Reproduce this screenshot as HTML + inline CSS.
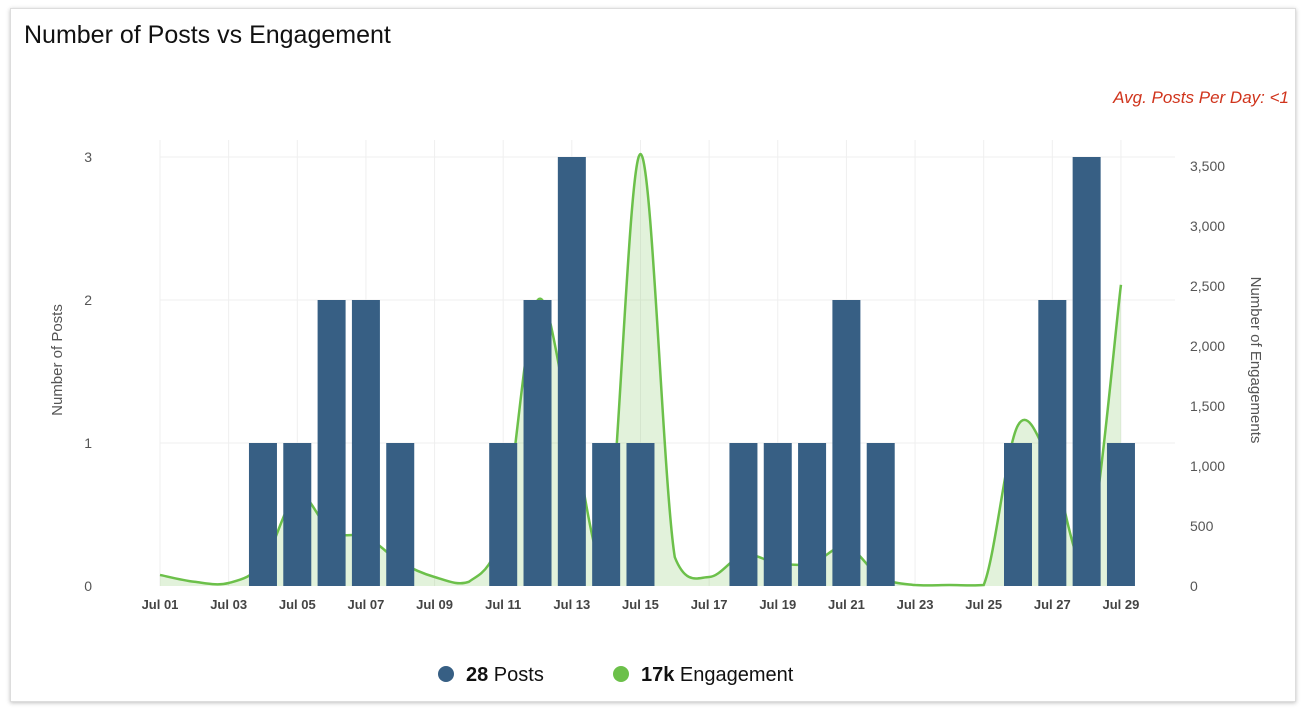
<!DOCTYPE html>
<html><head><meta charset="utf-8"><style>
body{margin:0;background:#fff;width:1304px;height:712px;overflow:hidden;font-family:"Liberation Sans",sans-serif}
.card{position:absolute;left:10px;top:8px;width:1284px;height:692px;border:1px solid #ddd;box-shadow:0 1px 4px rgba(0,0,0,.25);background:#fff}
</style></head><body>
<div class="card"></div>
<svg width="1304" height="712" style="position:absolute;left:0;top:0" font-family="Liberation Sans, sans-serif">
<text x="24" y="43" font-size="25" fill="#111">Number of Posts vs Engagement</text>
<text x="1289" y="103" font-size="17" fill="#d0341c" font-style="italic" text-anchor="end">Avg. Posts Per Day: &lt;1</text>
<g id="grid" stroke="#efefef" stroke-width="1"></g>
<path id="area" fill="#6cc04a" fill-opacity="0.2" stroke="none"/>
<path id="line" fill="none" stroke="#6cc04a" stroke-width="2.5"/>
<g id="bars" fill="#375f84"></g>
<g font-size="14" fill="#555" text-anchor="end">
<text x="92" y="591">0</text><text x="92" y="448">1</text><text x="92" y="305">2</text><text x="92" y="162">3</text>
</g>
<g font-size="14" fill="#555">
<text x="1190" y="591">0</text><text x="1190" y="531">500</text><text x="1190" y="471">1,000</text><text x="1190" y="411">1,500</text><text x="1190" y="351">2,000</text><text x="1190" y="291">2,500</text><text x="1190" y="231">3,000</text><text x="1190" y="171">3,500</text>
</g>
<text transform="translate(62,360) rotate(-90)" font-size="15" fill="#555" text-anchor="middle">Number of Posts</text>
<text transform="translate(1251,360) rotate(90)" font-size="15" fill="#555" text-anchor="middle">Number of Engagements</text>
<g id="xl" font-size="13" font-weight="bold" fill="#444" text-anchor="middle"></g>
<circle cx="446" cy="674" r="8" fill="#375f84"/>
<text x="466" y="681" font-size="20" fill="#111"><tspan font-weight="bold">28</tspan> Posts</text>
<circle cx="621" cy="674" r="8" fill="#6cc04a"/>
<text x="641" y="681" font-size="20" fill="#111"><tspan font-weight="bold">17k</tspan> Engagement</text>
</svg>
<script>
var NS="http://www.w3.org/2000/svg";
function X(d){return 160+(d-1)*34.32;}
var g=document.getElementById('grid'),xl=document.getElementById('xl'),bars=document.getElementById('bars');
function el(p,t,a){var e=document.createElementNS(NS,t);for(var k in a)e.setAttribute(k,a[k]);p.appendChild(e);return e;}
[157,300,443].forEach(function(y){el(g,'line',{x1:160,x2:1175,y1:y,y2:y});});
for(var d=1;d<=29;d+=2){el(g,'line',{x1:X(d),x2:X(d),y1:140,y2:586});
 var t=el(xl,'text',{x:X(d),y:609});t.textContent='Jul '+(d<10?'0'+d:d);}
var posts={4:1,5:1,6:2,7:2,8:1,11:1,12:2,13:3,14:1,15:1,18:1,19:1,20:1,21:2,22:1,26:1,27:2,28:3,29:1};
for(var k in posts){var h=posts[k]*143;el(bars,'rect',{x:X(+k)-14,y:586-h,width:28,height:h});}
var eng=[92,35,25,190,760,450,410,200,75,35,500,2380,1300,250,3600,240,75,260,190,190,330,73,8,8,8,1340,990,250,2510];
var P=eng.map(function(v,i){return [X(i+1),586-v*0.12];});
var dstr='M'+P[0][0]+','+P[0][1];
for(var i=0;i<P.length-1;i++){var p0=P[i-1]||P[i],p1=P[i],p2=P[i+1],p3=P[i+2]||P[i+1];
 var c1=[p1[0]+(p2[0]-p0[0])/6,p1[1]+(p2[1]-p0[1])/6],c2=[p2[0]-(p3[0]-p1[0])/6,p2[1]-(p3[1]-p1[1])/6];
 c1[1]=Math.min(c1[1],586);c2[1]=Math.min(c2[1],586);
 dstr+=' C'+c1+' '+c2+' '+p2;}
document.getElementById('line').setAttribute('d',dstr);
document.getElementById('area').setAttribute('d',dstr+' L'+P[P.length-1][0]+',586 L'+P[0][0]+',586Z');
</script>
</body></html>
